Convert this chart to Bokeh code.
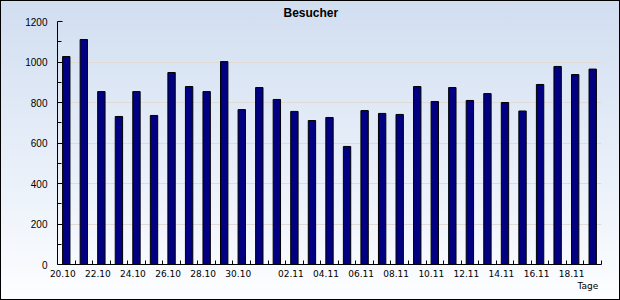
from bokeh.plotting import figure
from bokeh.models import Range1d, FixedTicker, LinearAxis, ColumnDataSource
from bokeh.embed import file_html
from bokeh.resources import INLINE

# ---- data ----
dates = ["20.10", "21.10", "22.10", "23.10", "24.10", "25.10", "26.10", "27.10",
         "28.10", "29.10", "30.10", "31.10", "01.11", "02.11", "03.11", "04.11",
         "05.11", "06.11", "07.11", "08.11", "09.11", "10.11", "11.11", "12.11",
         "13.11", "14.11", "15.11", "16.11", "17.11", "18.11", "19.11"]
visitors = [1027, 1111, 854, 731, 854, 736, 948, 879, 854, 1002, 765, 874,
            815, 756, 711, 726, 583, 760, 746, 741, 879, 805, 874, 810,
            844, 800, 758, 889, 978, 938, 965]
y_ticks = [0, 200, 400, 600, 800, 1000, 1200]
y_minor = [100, 300, 500, 700, 900, 1100]
title_text = "Besucher"
x_title = "Tage"

n = len(dates)
xs = list(range(n))
src = ColumnDataSource(dict(x=xs, y=visitors, d=dates))

p = figure(width=620, height=300, output_backend="svg", toolbar_location=None,
           x_range=Range1d(-0.5, n - 0.5), y_range=Range1d(0, 1200),
           min_border_left=57, min_border_right=19, min_border_top=21,
           min_border_bottom=36, title=title_text)
p.border_fill_color = None
p.background_fill_color = None
p.outline_line_color = None
p.styles = {"background": "linear-gradient(to bottom, #d1def0 0%, #e8eff9 55%, #fdfeff 100%)",
            "outline": "1px solid #000000", "outline-offset": "-1px"}

# title
p.title.align = "left"
p.title.offset = 226
p.title.vertical_align = "bottom"
p.title.standoff = 4
p.title.text_font = "Liberation Sans"
p.title.text_font_style = "bold"
p.title.text_font_size = "12px"
p.title.text_color = "#000000"

p.vbar(x="x", top="y", width=0.42, source=src, fill_color="#000080",
       line_color="#000000", line_width=1)

# y axis
p.yaxis.ticker = FixedTicker(ticks=y_ticks, minor_ticks=y_minor)
p.yaxis.major_tick_in = 5
p.yaxis.major_tick_out = 0
p.yaxis.minor_tick_in = 4
p.yaxis.minor_tick_out = 0
p.yaxis.major_label_standoff = 10
p.yaxis.major_label_text_font = "Liberation Sans"
p.yaxis.major_label_text_font_size = "10px"
p.yaxis.major_label_text_color = "#000000"
p.yaxis.axis_line_color = "#000000"
p.yaxis.major_tick_line_color = "#000000"
p.yaxis.minor_tick_line_color = "#000000"

# x axis
lab_pos = []
overrides = {}
for i, d in enumerate(dates):
    if int(d.split(".")[0]) % 2 == 0:
        pos = i - 0.2
        lab_pos.append(pos)
        overrides[pos] = d
p.xaxis.ticker = FixedTicker(ticks=lab_pos, minor_ticks=[i + 0.5 for i in range(n)])
p.xaxis.major_label_overrides = overrides
p.xaxis.major_tick_in = 0
p.xaxis.major_tick_out = 0
p.xaxis.minor_tick_in = 4
p.xaxis.minor_tick_out = 0
p.xaxis.major_label_standoff = 5
p.xaxis.major_label_text_font = "DejaVu Sans"
p.xaxis.major_label_text_font_size = "9px"
p.xaxis.major_label_text_color = "#000000"
p.xaxis.axis_line_color = "#000000"
p.xaxis.minor_tick_line_color = "#000000"

# second bottom axis carrying the "Tage" caption
cap_pos = 29.73
cap_axis = LinearAxis(ticker=FixedTicker(ticks=[cap_pos], minor_ticks=[]),
                      major_label_overrides={cap_pos: x_title},
                      axis_line_color=None, major_tick_line_color=None,
                      minor_tick_line_color=None, major_tick_in=0,
                      major_tick_out=0, minor_tick_in=0, minor_tick_out=0,
                      major_label_standoff=1,
                      major_label_text_font="DejaVu Sans",
                      major_label_text_font_size="9px",
                      major_label_text_color="#000000")
p.add_layout(cap_axis, "below")

# grid
p.xgrid.grid_line_color = None
p.ygrid.ticker = FixedTicker(ticks=y_ticks)
p.ygrid.grid_line_color = "#e2dad6"
p.ygrid.grid_line_width = 1

open("out.html", "w").write(file_html(p, INLINE))
